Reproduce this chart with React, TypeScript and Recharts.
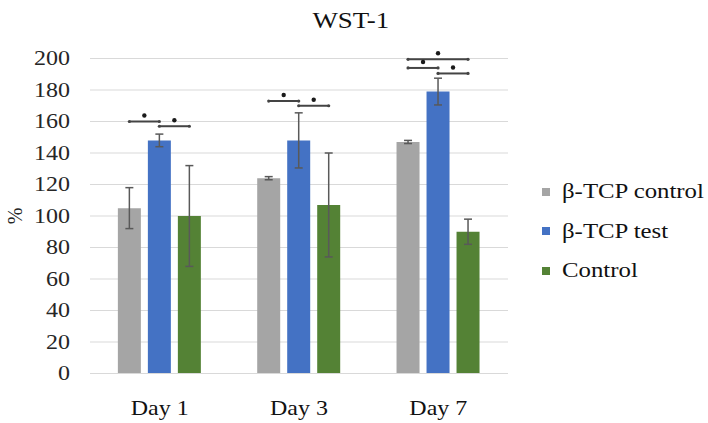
import React from "react";
import {
  BarChart,
  Bar,
  XAxis,
  YAxis,
  CartesianGrid,
  ErrorBar,
  Legend,
  Rectangle,
} from "recharts";

const days = ["Day 1", "Day 3", "Day 7"];
const seriesNames = ["β-TCP control", "β-TCP test", "Control"];
const tcpControl = [105, 124, 147];
const tcpControlErr = [13, 1, 1];
const tcpTest = [148, 148, 179];
const tcpTestErr = [4, 17.5, 8.5];
const control = [100, 107, 90];
const controlErr = [32, 33, 8];
const yTicks = [0, 20, 40, 60, 80, 100, 120, 140, 160, 180, 200];

// significance brackets: day index, from / to series (0 = β-TCP control, 1 = β-TCP test, 2 = Control), level in %
const bracketDay = [0, 0, 1, 1, 2, 2, 2];
const bracketFrom = [0, 1, 0, 1, 0, 0, 1];
const bracketTo = [1, 2, 1, 2, 2, 1, 2];
const bracketLevel = [160, 157, 173, 170, 199.5, 194, 190.5];

const data = days.map((day, i) => ({
  day,
  tcpControl: tcpControl[i],
  tcpControlErr: tcpControlErr[i],
  tcpTest: tcpTest[i],
  tcpTestErr: tcpTestErr[i],
  control: control[i],
  controlErr: controlErr[i],
}));

const GRAY = "#a5a5a5";
const BLUE = "#4472c4";
const GREEN = "#548235";
const SERIF = "Liberation Serif, DejaVu Serif, serif";
const STRETCH = 1.2;
const BAR_GAP = 7;

function YTick(props: any) {
  const { x, y, payload } = props;
  return (
    <g transform={`translate(${x},${y}) scale(${STRETCH},1)`}>
      <text x={0} y={0} dy="0.34em" textAnchor="end" style={{ fontFamily: SERIF }} fontSize={20} fill="#262626">
        {payload.value}
      </text>
    </g>
  );
}

function XTick(props: any) {
  const { x, y, payload } = props;
  return (
    <g transform={`translate(${x},${y + 41}) scale(${STRETCH},1)`}>
      <text x={0} y={0} textAnchor="middle" style={{ fontFamily: SERIF }} fontSize={20} fill="#111">
        {payload.value}
      </text>
    </g>
  );
}

function YLabel(props: any) {
  const { viewBox } = props;
  const cx = viewBox.x + 15;
  const cy = viewBox.y + viewBox.height / 2;
  return (
    <text
      x={cx}
      y={cy}
      transform={`rotate(-90 ${cx} ${cy})`}
      textAnchor="middle"
      dy="0.34em"
      style={{ fontFamily: SERIF }}
      fontSize={20}
      fill="#262626"
    >
      %
    </text>
  );
}

// the test bar also carries the significance brackets of its day
function TestBar(props: any) {
  const { x, y, width, height, index, fill, payload } = props;
  const base = y + height;
  const toPx = (v: number) => base - (height * v) / payload.tcpTest;
  const step = width + BAR_GAP;
  const center = x + width / 2;
  return (
    <g>
      <Rectangle x={x} y={y} width={width} height={height} fill={fill} />
      {bracketDay.map((d, k) => {
        if (d !== index) return null;
        const x1 = center + (bracketFrom[k] - 1) * step;
        const x2 = center + (bracketTo[k] - 1) * step;
        const py = toPx(bracketLevel[k]);
        return (
          <g key={k}>
            <line x1={x1} x2={x2} y1={py} y2={py} stroke="#444" strokeWidth={2} />
            <circle cx={x1} cy={py} r={1.6} fill="#444" />
            <circle cx={x2} cy={py} r={1.6} fill="#444" />
            <circle cx={(x1 + x2) / 2} cy={py - 6} r={2.2} fill="#1a1a1a" />
          </g>
        );
      })}
    </g>
  );
}

function LegendContent(props: any) {
  const { payload = [] } = props;
  const items = [...payload].sort(
    (a: any, b: any) => seriesNames.indexOf(a.value) - seriesNames.indexOf(b.value)
  );
  return (
    <div style={{ fontFamily: SERIF, fontSize: 20, color: "#111" }}>
      {items.map((item: any) => (
        <div
          key={item.value}
          style={{ display: "flex", alignItems: "center", height: 39.5, whiteSpace: "nowrap" }}
        >
          <span style={{ width: 8, height: 8, background: item.color, marginRight: 12, flex: "none" }} />
          <span
            style={{
              display: "inline-block",
              transform: "scaleX(1.24)",
              transformOrigin: "left center",
            }}
          >
            {item.value}
          </span>
        </div>
      ))}
    </div>
  );
}

export default function App() {
  return (
    <div style={{ position: "absolute", left: 0, top: 0, width: 708, height: 423, background: "#fff" }}>
      <div
        style={{
          position: "absolute",
          left: 0,
          top: 10,
          width: 702,
          textAlign: "center",
          fontFamily: SERIF,
          fontSize: 23,
          lineHeight: "22px",
          color: "#111",
        }}
      >
        <span style={{ display: "inline-block", transform: "scaleX(1.17)" }}>WST-1</span>
      </div>
      <BarChart
        width={708}
        height={423}
        data={data}
        margin={{ top: 58.5, right: 200, bottom: 9.5, left: 0 }}
        barCategoryGap="20%"
        barGap={BAR_GAP}
        style={{ position: "absolute", left: 0, top: 0 }}
      >
        <CartesianGrid vertical={false} stroke="#d9d9d9" />
        <XAxis
          dataKey="day"
          height={40}
          interval={0}
          tickLine={false}
          tickSize={0}
          tickMargin={0}
          axisLine={{ stroke: "#d9d9d9" }}
          tick={<XTick />}
        />
        <YAxis
          width={90}
          domain={[0, 200]}
          ticks={yTicks}
          axisLine={false}
          tickLine={false}
          tickSize={0}
          tickMargin={20}
          tick={<YTick />}
          label={<YLabel />}
        />
        <Legend
          content={<LegendContent />}
          wrapperStyle={{ left: 542, top: 172, width: 0, height: 0, overflow: "visible" }}
        />
        <Bar dataKey="tcpControl" name={seriesNames[0]} fill={GRAY} isAnimationActive={false}>
          <ErrorBar dataKey="tcpControlErr" width={4} stroke="#595959" strokeWidth={1.5} />
        </Bar>
        <Bar
          dataKey="tcpTest"
          name={seriesNames[1]}
          fill={BLUE}
          shape={<TestBar />}
          isAnimationActive={false}
        >
          <ErrorBar dataKey="tcpTestErr" width={4} stroke="#595959" strokeWidth={1.5} />
        </Bar>
        <Bar dataKey="control" name={seriesNames[2]} fill={GREEN} isAnimationActive={false}>
          <ErrorBar dataKey="controlErr" width={4} stroke="#595959" strokeWidth={1.5} />
        </Bar>
      </BarChart>
    </div>
  );
}
